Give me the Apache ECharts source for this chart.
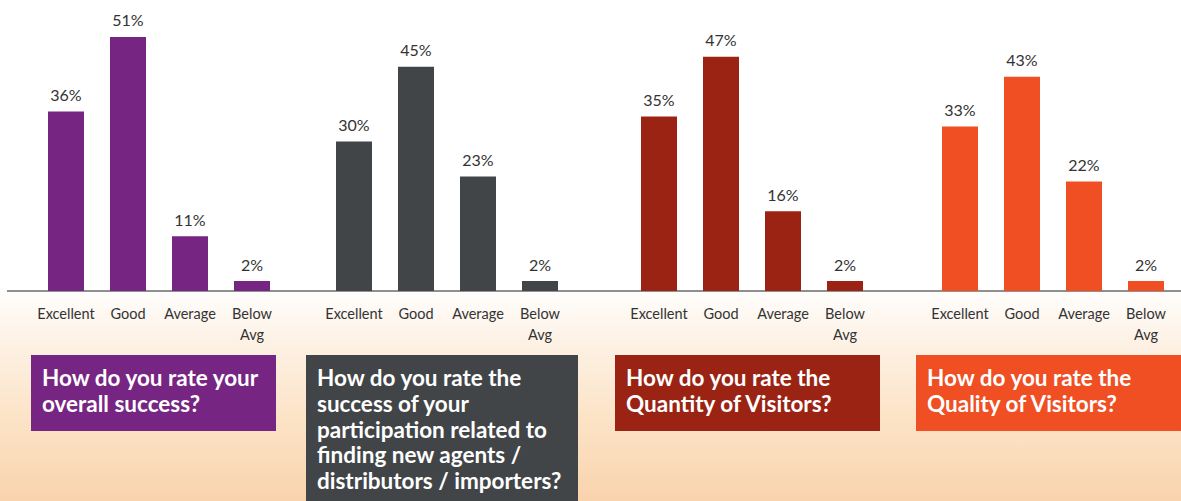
<!DOCTYPE html>
<html>
<head>
<meta charset="utf-8">
<script src="https://cdn.jsdelivr.net/npm/echarts@6/dist/echarts.min.js"></script>
<style>
html,body{margin:0;padding:0;}
#chart{
	width:1181px;height:501px;
	background:linear-gradient(to bottom,#ffffff 0px,#ffffff 285px,#fdf3e8 335px,#fce3c6 420px,#f9d3ad 501px);
}
</style>
</head>
<body>
<div id="chart"></div>
<script>
//分类
var categories=['Excellent','Good','Average','Below\nAvg'];
//四组数据
var overallSuccess=[36,51,11,2];
var newAgents=[30,45,23,2];
var visitorQuantity=[35,47,16,2];
var visitorQuality=[33,43,22,2];
var questions=[
	'How do you rate your\noverall success?',
	'How do you rate the\nsuccess of your\nparticipation related to\nfinding new agents /\ndistributors / importers?',
	'How do you rate the\nQuantity of Visitors?',
	'How do you rate the\nQuality of Visitors?'
];

var groups=[overallSuccess,newAgents,visitorQuantity,visitorQuality];
var colors=['#772583','#424548','#9b2314','#f04e23'];
var gridLeft=[35,323,628,929];//每组网格左边位置
var boxes=[[31,355,245,76],[306,355,272,146],[615,355,265,76],[916,355,265,76]];

var font='Lato, "Open Sans", sans-serif';
var dom=document.getElementById('chart');
var myChart=echarts.init(dom,null,{renderer:'svg'});

var grid=[],xAxis=[],yAxis=[],series=[],graphic=[];
for(var i=0;i<groups.length;i++){
	grid.push({left:gridLeft[i],width:248,top:2,bottom:210});
	xAxis.push({
		type:'category',gridIndex:i,data:categories,
		axisLine:{show:false},axisTick:{show:false},
		axisLabel:{color:'#333',fontSize:14.5,fontFamily:font,margin:12,lineHeight:21,verticalAlign:'top',interval:0}
	});
	yAxis.push({type:'value',gridIndex:i,min:0,max:58,show:false,splitLine:{show:false}});
	series.push({
		type:'bar',xAxisIndex:i,yAxisIndex:i,data:groups[i],barWidth:36,
		itemStyle:{color:colors[i]},
		label:{show:true,position:'top',distance:9,formatter:'{c}%',color:'#333',fontSize:16,fontFamily:font}
	});
	//问题框
	graphic.push({
		type:'group',left:boxes[i][0],top:boxes[i][1],
		children:[
			{type:'rect',shape:{x:0,y:0,width:boxes[i][2],height:boxes[i][3]},style:{fill:colors[i]}},
			{type:'text',x:11,y:10,style:{text:questions[i],fill:'#fff',font:'bold 22.5px '+font,lineHeight:25.7}}
		]
	});
}
//底线
graphic.push({type:'line',shape:{x1:7,y1:291,x2:1181,y2:291},style:{stroke:'#222',lineWidth:1}});

var option={
	animation:false,
	grid:grid,
	xAxis:xAxis,
	yAxis:yAxis,
	series:series,
	graphic:graphic
};
myChart.setOption(option,true);
</script>
</body>
</html>
